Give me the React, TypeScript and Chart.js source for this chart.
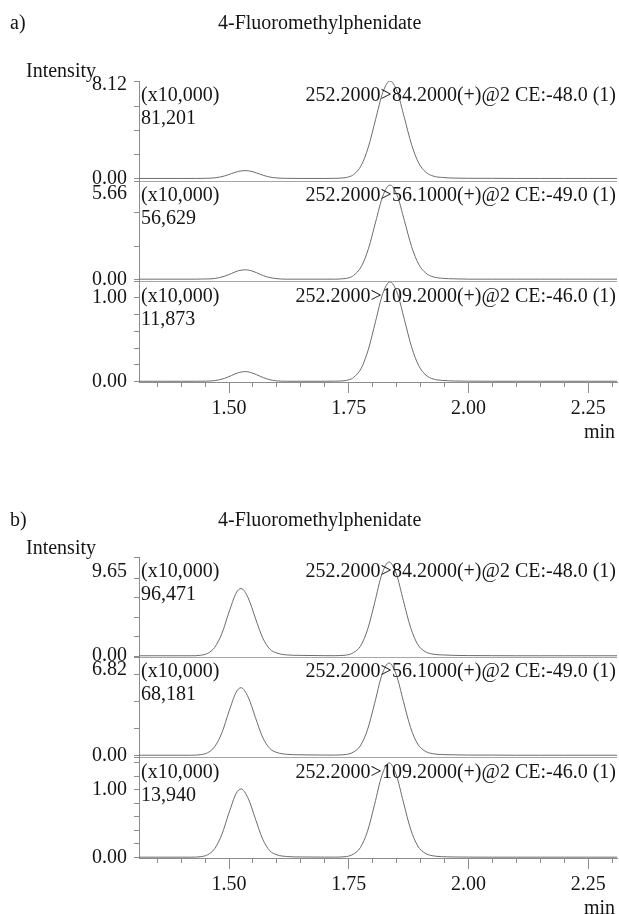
import React, { useEffect, useRef } from 'react';
import { Chart, registerables } from 'chart.js';

Chart.register(...registerables);

// ---------- data (intensity in units of x10,000) ----------
const timesA = [1.312, 1.36, 1.40, 1.43, 1.45, 1.47, 1.49, 1.505, 1.52, 1.535, 1.55, 1.565, 1.58, 1.60, 1.62, 1.65, 1.70, 1.72, 1.74, 1.75, 1.76, 1.776, 1.791, 1.806, 1.821, 1.836, 1.851, 1.866, 1.881, 1.896, 1.911, 1.926, 1.946, 1.97, 2.00, 2.05, 2.10, 2.15, 2.20, 2.25, 2.31];
const a84Values = [0.02, 0.02, 0.02, 0.02, 0.03, 0.07, 0.22, 0.42, 0.61, 0.67, 0.57, 0.37, 0.18, 0.06, 0.03, 0.02, 0.02, 0.03, 0.07, 0.15, 0.34, 1.10, 2.64, 4.93, 7.17, 8.12, 7.23, 5.08, 2.84, 1.30, 0.54, 0.22, 0.10, 0.05, 0.03, 0.03, 0.02, 0.02, 0.02, 0.02, 0.02];
const a56Values = [0.02, 0.02, 0.02, 0.02, 0.03, 0.06, 0.19, 0.36, 0.53, 0.58, 0.49, 0.31, 0.15, 0.05, 0.02, 0.02, 0.02, 0.02, 0.05, 0.10, 0.24, 0.77, 1.84, 3.44, 5.00, 5.66, 5.04, 3.54, 1.98, 0.91, 0.38, 0.16, 0.07, 0.04, 0.02, 0.02, 0.02, 0.02, 0.02, 0.02, 0.02];
const a109Values = [0.005, 0.005, 0.005, 0.005, 0.006, 0.012, 0.038, 0.073, 0.108, 0.12, 0.10, 0.064, 0.031, 0.009, 0.005, 0.005, 0.005, 0.006, 0.011, 0.022, 0.05, 0.16, 0.386, 0.72, 1.048, 1.187, 1.057, 0.742, 0.415, 0.19, 0.078, 0.032, 0.015, 0.008, 0.006, 0.005, 0.005, 0.005, 0.005, 0.005, 0.005];

const timesB = [1.312, 1.36, 1.40, 1.42, 1.44, 1.455, 1.47, 1.485, 1.50, 1.515, 1.525, 1.54, 1.555, 1.57, 1.585, 1.60, 1.62, 1.65, 1.70, 1.72, 1.74, 1.75, 1.76, 1.774, 1.789, 1.804, 1.819, 1.834, 1.849, 1.864, 1.879, 1.894, 1.909, 1.924, 1.944, 1.97, 2.00, 2.05, 2.10, 2.15, 2.20, 2.25, 2.31];
const b84Values = [0.03, 0.03, 0.03, 0.03, 0.08, 0.27, 0.89, 2.31, 4.52, 6.48, 6.93, 5.96, 3.89, 1.89, 0.72, 0.31, 0.12, 0.07, 0.04, 0.04, 0.08, 0.15, 0.36, 0.99, 2.68, 5.46, 8.39, 9.65, 8.47, 5.68, 2.93, 1.19, 0.47, 0.21, 0.12, 0.07, 0.05, 0.04, 0.03, 0.03, 0.03, 0.03, 0.03];
const b56Values = [0.02, 0.02, 0.02, 0.02, 0.06, 0.20, 0.65, 1.67, 3.26, 4.68, 5.00, 4.30, 2.81, 1.36, 0.52, 0.22, 0.09, 0.05, 0.03, 0.03, 0.06, 0.11, 0.26, 0.71, 1.89, 3.85, 5.92, 6.82, 5.98, 4.00, 2.06, 0.84, 0.33, 0.14, 0.07, 0.05, 0.03, 0.03, 0.02, 0.02, 0.02, 0.02, 0.02];
const b109Values = [0.005, 0.005, 0.005, 0.005, 0.012, 0.040, 0.13, 0.34, 0.66, 0.945, 1.01, 0.87, 0.57, 0.275, 0.10, 0.04, 0.015, 0.008, 0.006, 0.006, 0.011, 0.021, 0.052, 0.144, 0.385, 0.785, 1.207, 1.394, 1.22, 0.816, 0.42, 0.17, 0.065, 0.027, 0.013, 0.008, 0.006, 0.005, 0.005, 0.005, 0.005, 0.005, 0.005];

// x axis
const xMin = 1.312;
const xMax = 2.31;
const xTickValues = [1.35, 1.40, 1.45, 1.50, 1.55, 1.60, 1.65, 1.70, 1.75, 1.80, 1.85, 1.90, 1.95, 2.00, 2.05, 2.10, 2.15, 2.20, 2.25, 2.30];
const xTickLabels = ['', '', '', '1.50', '', '', '', '', '1.75', '', '', '', '', '2.00', '', '', '', '', '2.25', ''];

// y axes (one per trace panel)
const yMinA = [-0.22, -0.13, -0.004];
const yMaxA = [8.12, 5.88, 1.19];
const yTicksA = [[0, 2, 4, 6, 8.12], [0, 2, 4, 5.88], [0, 0.2, 0.4, 0.6, 0.8, 1.0]];
const yLabelTickA = [8.12, 5.88, 1.0];
const yLabelTextA = ['8.12', '5.66', '1.00'];
const yLabelDropA = [4, 12, 0];

const yMinB = [-0.13, -0.16, -0.007];
const yMaxB = [10.16, 7.24, 1.47];
const yTicksB = [[0, 2, 4, 6, 8, 10.16], [0, 2, 4, 6, 7.24], [0, 0.2, 0.4, 0.6, 0.8, 1.0, 1.2, 1.4]];
const yLabelTickB = [10.16, 7.24, 1.0];
const yLabelTextB = ['9.65', '6.82', '1.00'];
const yLabelDropB = [15, 12, 0];

// texts
const compoundName = '4-Fluoromethylphenidate';
const yAxisTitle = 'Intensity';
const xAxisTitle = 'min';
const scaleNote = '(x10,000)';
const transitions = [
  '252.2000>84.2000(+)@2 CE:-48.0 (1)',
  '252.2000>56.1000(+)@2 CE:-49.0 (1)',
  '252.2000>109.2000(+)@2 CE:-46.0 (1)',
];
const peakMaxA = ['81,201', '56,629', '11,873'];
const peakMaxB = ['96,471', '68,181', '13,940'];

// ---------- styling ----------
const FONT = "'Liberation Serif', 'Times New Roman', serif";
const TEXT = '#151515';
const AXIS = '#8c8c8c';
const SEP = '#a6a6a6';
const TRACE = '#6c6c6c';
const W = 619;
const AREA_TOP = 81;
const AREA_BOTTOM = 382;
const AXIS_LEFT = 139;
const X_AXIS_H = 40;

Chart.defaults.font.family = FONT;
Chart.defaults.font.size = 20;
Chart.defaults.color = TEXT;

function isMajor(v: number | undefined) {
  if (v === undefined) return false;
  return Math.abs(v * 4 - Math.round(v * 4)) < 1e-6;
}

type GroupProps = {
  top: number;
  height: number;
  tag: string;
  headerY: number;
  intensityY: number;
  times: number[];
  series: number[][];
  yMin: number[];
  yMax: number[];
  yTicks: number[][];
  labelTick: number[];
  labelText: string[];
  labelDrop: number[];
  peakMax: string[];
};

const Txt = ({ x, y, text, right }: { x: number; y: number; text: string; right?: boolean }) => (
  <div
    style={{
      position: 'absolute',
      top: y - 10,
      left: right ? undefined : x,
      right: right ? W - x : undefined,
      font: `20px ${FONT}`,
      lineHeight: '20px',
      whiteSpace: 'nowrap',
      color: TEXT,
    }}
  >
    {text}
  </div>
);

function Group(p: GroupProps) {
  const ref = useRef<HTMLCanvasElement | null>(null);

  useEffect(() => {
    if (!ref.current) return;
    const ids = ['y0', 'y1', 'y2'];
    const datasets = p.series.map((vals, i) => ({
      data: p.times.map((t, j) => ({ x: t, y: vals[j] })),
      yAxisID: ids[i],
      xAxisID: 'x',
      borderColor: TRACE,
      borderWidth: 1,
      pointRadius: 0,
      fill: false,
      cubicInterpolationMode: 'monotone' as const,
    }));

    const scales: any = {
      x: {
        type: 'linear',
        position: 'bottom',
        min: xMin,
        max: xMax,
        afterBuildTicks: (s: any) => {
          s.ticks = xTickValues.map((v) => ({ value: v }));
        },
        afterFit: (s: any) => {
          s.height = X_AXIS_H;
        },
        grid: {
          drawOnChartArea: false,
          drawTicks: true,
          tickLength: 11,
          tickColor: AXIS,
          tickWidth: 1,
          tickBorderDash: (ctx: any) => (isMajor(ctx.tick?.value) ? [] : [4, 40]),
        },
        border: { display: true, color: AXIS, width: 1 },
        ticks: {
          autoSkip: false,
          maxRotation: 0,
          padding: 4,
          color: TEXT,
          font: { size: 20, family: FONT },
          callback: (_v: any, i: number) => xTickLabels[i] ?? '',
        },
      },
    };

    ids.forEach((id, i) => {
      const drop = p.labelDrop[i];
      scales[id] = {
        type: 'linear',
        position: 'left',
        stack: 'panels',
        stackWeight: 1,
        weight: 3 - i,
        min: p.yMin[i],
        max: p.yMax[i],
        afterBuildTicks: (s: any) => {
          s.ticks = [p.yMin[i], ...p.yTicks[i]].map((v) => ({ value: v }));
        },
        afterFit: (s: any) => {
          s.width = AXIS_LEFT;
        },
        grid: {
          drawTicks: true,
          tickLength: 5,
          tickColor: AXIS,
          tickWidth: 1,
          lineWidth: 1,
          color: (ctx: any) =>
            i < 2 && ctx.tick && ctx.tick.value === p.yMin[i] ? SEP : 'rgba(0,0,0,0)',
        },
        border: { display: true, color: AXIS, width: 1 },
        ticks: {
          autoSkip: false,
          padding: 7,
          color: TEXT,
          font: (ctx: any) =>
            drop > 0 && ctx.tick && ctx.tick.value === p.labelTick[i]
              ? { size: 20, family: FONT, lineHeight: (2 * drop) / 20 }
              : { size: 20, family: FONT, lineHeight: 1.2 },
          callback: (v: any) => {
            if (v === 0) return '0.00';
            if (v === p.labelTick[i]) return drop > 0 ? ['', p.labelText[i]] : p.labelText[i];
            return '';
          },
        },
      };
    });

    const chart = new Chart(ref.current, {
      type: 'line',
      data: { datasets },
      options: {
        animation: false,
        responsive: false,
        maintainAspectRatio: false,
        events: [],
        layout: {
          padding: { top: AREA_TOP, left: 0, right: W - 617, bottom: p.height - AREA_BOTTOM - X_AXIS_H },
        },
        plugins: {
          legend: { display: false },
          tooltip: { enabled: false },
          title: { display: false },
        },
        scales,
      },
    });
    return () => chart.destroy();
  }, []);

  const panelTops = [81, 181, 282];

  return (
    <div style={{ position: 'absolute', left: 0, top: p.top, width: W, height: p.height }}>
      <canvas ref={ref} width={W} height={p.height} style={{ position: 'absolute', left: 0, top: 0 }} />
      <Txt x={10} y={p.headerY} text={p.tag} />
      <Txt x={218} y={p.headerY} text={compoundName} />
      <Txt x={26} y={p.intensityY} text={yAxisTitle} />
      {panelTops.map((t, i) => (
        <React.Fragment key={i}>
          <Txt x={141} y={t + 13} text={scaleNote} />
          <Txt x={141} y={t + 36} text={p.peakMax[i]} />
          <Txt x={616} y={t + 13} text={transitions[i]} right />
        </React.Fragment>
      ))}
      <Txt x={615} y={431} text={xAxisTitle} right />
    </div>
  );
}

export default function App() {
  return (
    <div style={{ position: 'absolute', left: 0, top: 0, width: W, height: 914, background: '#fff', overflow: 'hidden' }}>
      <Group
        top={0}
        height={460}
        tag="a)"
        headerY={22}
        intensityY={70}
        times={timesA}
        series={[a84Values, a56Values, a109Values]}
        yMin={yMinA}
        yMax={yMaxA}
        yTicks={yTicksA}
        labelTick={yLabelTickA}
        labelText={yLabelTextA}
        labelDrop={yLabelDropA}
        peakMax={peakMaxA}
      />
      <Group
        top={476}
        height={438}
        tag="b)"
        headerY={43}
        intensityY={71}
        times={timesB}
        series={[b84Values, b56Values, b109Values]}
        yMin={yMinB}
        yMax={yMaxB}
        yTicks={yTicksB}
        labelTick={yLabelTickB}
        labelText={yLabelTextB}
        labelDrop={yLabelDropB}
        peakMax={peakMaxB}
      />
    </div>
  );
}
